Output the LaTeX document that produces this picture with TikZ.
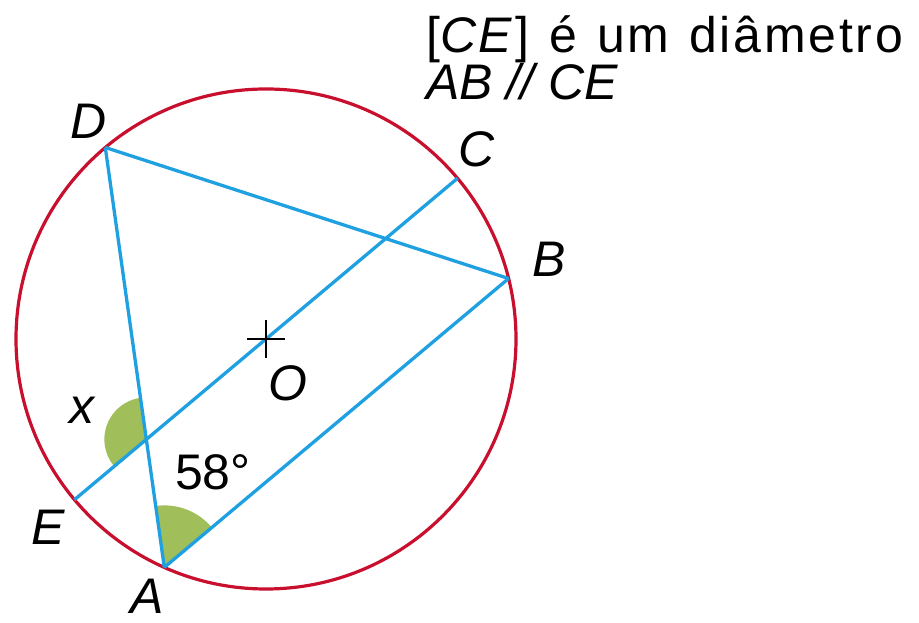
\documentclass[tikz,border=0pt]{standalone}
\usepackage{fontspec}
\setmainfont{Liberation Sans}
\newfontfamily\widesans[LetterSpace=5.5,WordSpace=1.2]{Liberation Sans}
\usetikzlibrary{calc}
\begin{document}
\begin{tikzpicture}[x=1pt,y=1pt,
  bluel/.style={draw=lblue,line width=3.3pt},
  lbl/.style={inner sep=0pt,font=\fontsize{50}{60}\selectfont\itshape},
  ang/.style={fill=lgreen,draw=none}]
\definecolor{lblue}{RGB}{30,160,225}
\definecolor{lred}{RGB}{200,16,46}
\definecolor{lgreen}{RGB}{160,190,90}
\useasboundingbox (0,0) rectangle (919,623);
\coordinate (O) at (266,284);
\coordinate (C) at ($(O)+(40:250)$);
\coordinate (E) at ($(O)+(220:250)$);
\coordinate (B) at ($(O)+(14:250)$);
\coordinate (A) at ($(O)+(246:250)$);
\coordinate (D) at ($(O)+(130:250)$);
\coordinate (P) at (intersection of A--D and C--E);
% angle marks
\fill[ang] (A) -- ++(40:62) arc[start angle=40,end angle=98,radius=62] -- cycle;
\fill[ang] (P) -- ++(98:42) arc[start angle=98,end angle=220,radius=42] -- cycle;
% circle
\draw[lred,line width=3.2pt] (O) circle[radius=250];
% chords
\draw[bluel] (C) -- (E);
\draw[bluel] (A) -- (B);
\draw[bluel] (D) -- (A);
\draw[bluel] (D) -- (B);
% centre mark
\draw[black,line width=2pt] ($(O)+(-19,0)$) -- ($(O)+(19,0)$) ($(O)+(0,-19)$) -- ($(O)+(0,19)$);
% labels
\node[lbl] (lD) at (89,502) {D};
\node[lbl] (lC) at (477,474) {C};
\node[lbl] (lB) at (549,364) {B};
\node[lbl] (lE) at (48,96) {E};
\node[lbl] (lA) at (147,27) {A};
\node[lbl] (lO) at (288,240) {O};
\node[lbl] (lx) at (82,213) {x};
\node[inner sep=0pt,font=\fontsize{50}{60}\selectfont] (l58) at (213,151) {58°};
\node[inner sep=0pt,anchor=base west,font=\fontsize{50}{60}\selectfont\widesans] (t1) at (426,570) {[\textit{CE}] é um diâmetro};
\node[inner sep=0pt,anchor=base west,font=\fontsize{50}{60}\selectfont\itshape] (t2) at (426,523) {AB // CE};
\end{tikzpicture}
\end{document}
